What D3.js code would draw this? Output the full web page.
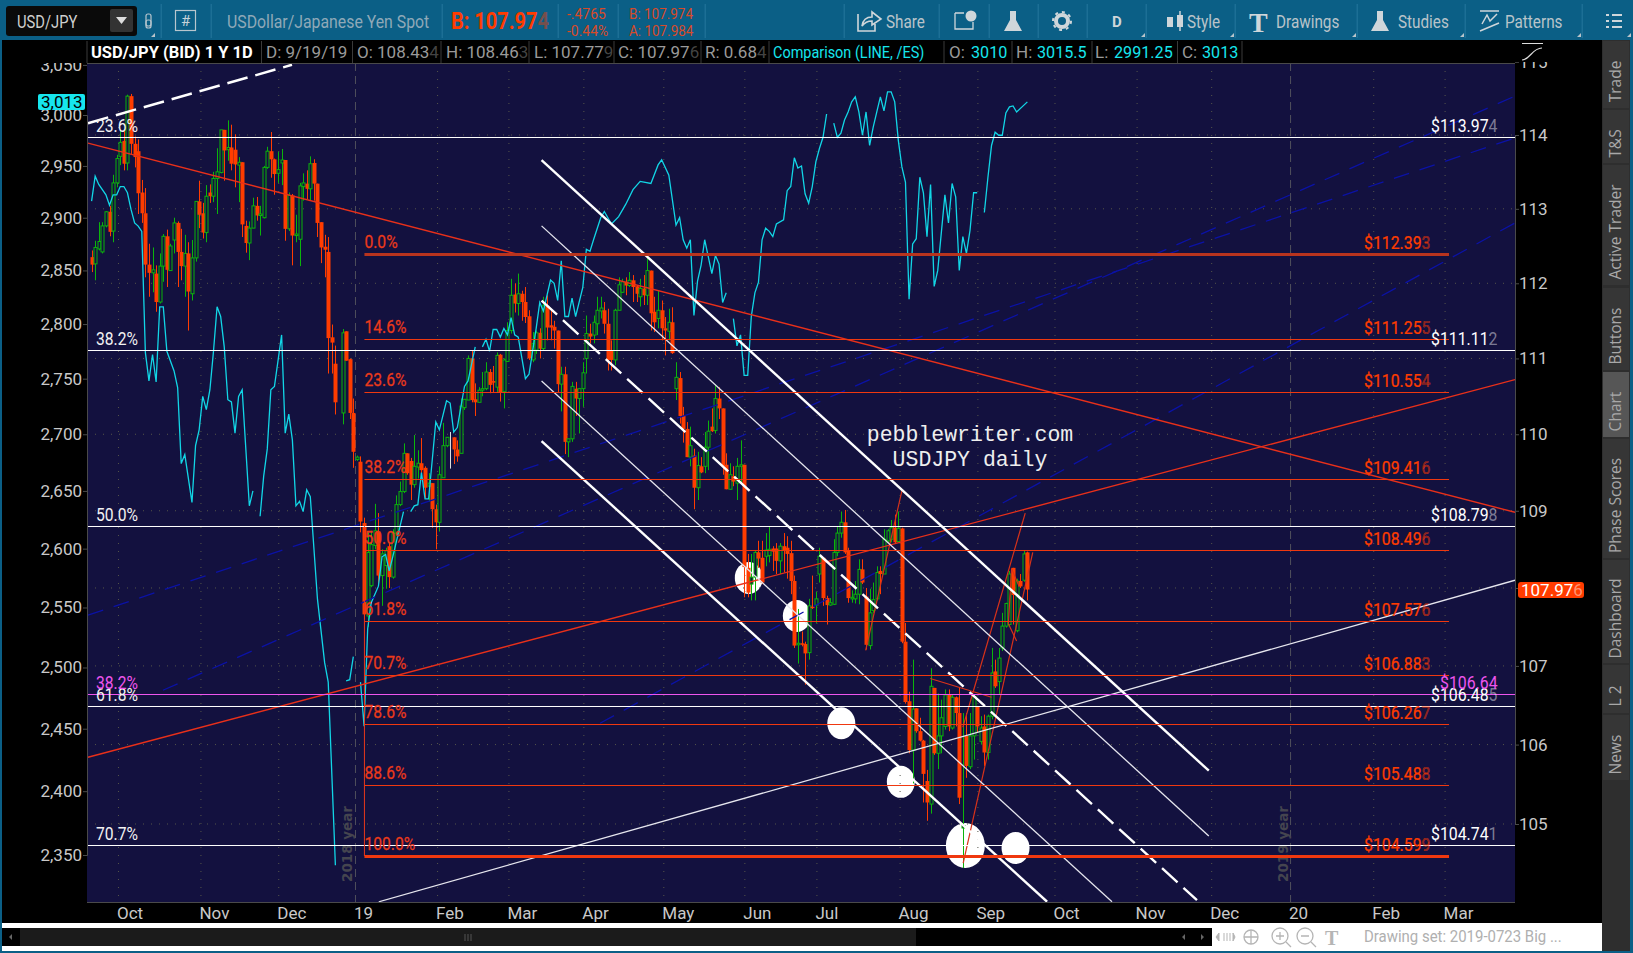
<!DOCTYPE html>
<html>
<head>
<meta charset="utf-8">
<script src="https://cdnjs.cloudflare.com/ajax/libs/d3/7.8.5/d3.min.js"></script>
<style>
  html, body { margin: 0; padding: 0; background: #0b5f86; overflow: hidden; }
  svg { display: block; }
  text { font-family: "Roboto", sans-serif; }
</style>
</head>
<body>
<svg id="chart" width="1633" height="953"></svg>
<script>
// USD/JPY daily candles, one entry per bar (null = no bar)
const opens = [
  112.35,112.26,112.46,112.42,112.77,112.96,112.70,113.35,113.71,113.92,
  113.62,114.53,113.88,113.78,113.22,112.94,112.25,112.14,112.13,111.75,
  112.23,112.63,112.17,112.58,112.81,112.42,112.23,112.40,111.86,112.34,
  113.10,112.94,112.68,113.22,113.17,113.41,113.49,114.07,113.80,113.83,
  113.80,113.59,113.63,112.77,112.54,112.74,113.04,112.91,112.88,113.56,
  113.78,113.67,113.48,113.62,113.66,112.73,113.18,112.64,112.59,113.30,
  113.34,113.27,113.62,113.34,112.82,112.49,112.42,111.28,110.93,null,
  110.28,111.36,110.99,110.28,109.67,109.64,108.84,107.64,108.03,108.55,
  108.73,108.16,108.29,108.54,108.14,108.71,109.08,109.25,109.75,109.65,
  109.34,109.57,109.62,109.56,109.32,109.36,109.02,108.85,109.43,109.85,
  109.96,109.96,109.80,109.75,110.35,110.45,111.00,110.46,110.42,110.58,
  110.60,110.82,110.70,110.62,111.05,110.56,110.96,111.37,111.85,111.73,
  111.86,111.75,111.56,110.98,111.11,111.34,111.13,111.70,111.44,111.42,
  111.37,110.66,110.79,109.90,109.94,110.60,110.47,110.60,111.00,111.33,
  111.31,111.46,111.63,111.64,111.46,111.11,110.98,111.64,111.88,112.02,
  111.97,112.04,111.96,111.82,111.93,111.84,112.17,111.62,111.53,111.64,
  111.40,111.36,111.48,110.60,110.74,110.24,110.07,109.70,109.72,109.30,
  109.58,109.58,109.83,110.10,110.05,110.47,110.34,109.60,109.28,109.45,
  109.36,109.58,109.60,108.26,108.05,108.14,108.46,108.39,108.41,108.42,
  108.51,108.51,108.35,108.54,108.52,108.45,108.09,107.27,107.29,107.28,
  107.17,107.76,107.78,108.18,108.39,107.87,107.78,107.79,108.46,108.71,
  108.85,108.48,107.86,107.86,107.92,108.24,107.89,107.26,107.71,107.86,
  108.22,108.18,108.61,108.63,108.78,108.60,108.77,107.31,106.55,105.93,
  106.46,106.17,106.05,105.54,105.25,106.72,105.89,106.11,106.23,106.63,
  106.21,106.60,106.40,104.95,106.11,105.72,106.11,106.49,106.04,106.23,
  105.90,106.36,106.93,106.80,107.23,107.51,107.53,108.26,107.45,108.09,
  108.10,108.46
];
const highs = [
  112.44,112.57,112.82,112.82,112.97,113.04,113.46,113.73,114.07,114.07,
  114.55,114.56,113.98,113.94,113.39,113.28,112.53,112.48,112.24,112.40,
  112.66,112.72,112.53,112.88,112.83,112.73,112.65,112.55,112.58,113.10,
  113.38,113.08,113.32,113.33,113.50,113.82,114.07,114.07,114.20,114.14,
  114.01,113.70,113.63,112.84,112.83,113.15,113.16,113.04,113.58,113.84,
  114.04,113.68,113.77,113.81,113.66,113.22,113.20,112.92,113.35,113.48,
  113.52,113.71,113.67,113.34,112.82,112.65,112.62,111.45,111.17,null,
  111.39,111.36,111.00,110.47,109.72,109.71,108.91,108.72,108.74,109.09,
  108.97,108.50,108.52,108.59,108.76,109.20,109.38,109.88,109.75,109.69,
  109.99,109.79,109.95,109.58,109.49,109.36,109.08,109.58,110.15,109.96,
  110.03,109.96,109.92,110.47,110.46,111.04,111.10,110.67,110.62,110.82,
  110.95,110.86,110.90,111.08,111.06,111.00,111.48,112.06,112.00,112.13,
  111.90,111.95,111.64,111.35,111.37,111.40,111.82,111.84,111.65,111.50,
  111.37,110.89,110.89,109.94,110.69,110.69,110.61,110.95,111.57,111.46,
  111.57,111.82,111.82,111.75,111.66,111.24,111.66,112.08,112.06,112.08,
  112.15,112.11,111.97,112.06,112.11,112.35,112.17,111.82,111.90,111.77,
  111.55,111.66,111.68,110.95,110.82,110.36,110.16,110.10,109.81,109.77,
  109.70,110.03,110.18,110.34,110.65,110.62,110.34,109.75,109.62,109.58,
  109.69,109.92,109.60,108.44,108.44,108.48,108.61,108.61,108.71,108.80,
  108.54,108.58,108.58,108.71,108.67,108.61,108.16,107.73,107.44,107.31,
  107.86,108.16,107.95,108.52,108.39,107.90,107.87,108.63,108.80,108.99,
  109.01,108.52,107.97,108.09,108.37,108.37,108.00,107.99,108.07,108.28,
  108.28,108.76,108.76,108.88,108.95,108.99,108.78,107.55,106.67,107.08,
  106.46,106.34,106.06,105.68,106.97,106.72,106.65,106.57,106.70,106.70,
  106.63,106.61,106.72,106.40,106.40,106.40,106.63,106.49,106.36,106.38,
  106.38,107.23,107.08,107.23,107.68,107.81,108.22,108.26,108.12,108.18,
  108.48,108.47
];
const lows = [
  112.15,112.04,112.44,112.40,112.75,112.63,112.55,113.29,113.59,113.52,
  113.52,113.73,113.56,112.93,112.81,112.08,111.82,111.88,111.62,111.73,
  112.02,111.95,112.17,112.40,111.95,112.04,111.82,111.37,111.77,112.29,
  112.74,112.60,112.55,113.08,113.09,112.93,113.48,113.38,113.65,113.52,
  113.29,113.09,112.62,112.41,112.31,112.74,112.84,112.64,112.87,113.54,
  113.42,113.19,113.35,113.32,112.57,112.70,112.24,112.55,112.23,113.11,
  113.13,113.11,113.11,112.62,112.27,112.08,110.80,110.80,110.26,null,
  110.13,110.97,110.20,109.56,109.65,108.72,107.60,107.50,108.01,108.50,
  108.03,107.77,107.99,108.00,108.12,108.67,109.06,109.23,109.47,109.14,
  109.30,109.42,109.42,109.16,109.12,108.78,108.50,108.73,109.43,109.83,
  109.55,109.61,109.64,109.75,110.32,110.45,110.42,110.24,110.42,110.50,
  110.58,110.54,110.55,110.55,110.43,110.34,110.96,111.33,111.61,111.57,
  111.50,111.47,110.98,110.95,111.06,111.00,111.11,111.24,111.24,111.13,
  110.55,110.30,109.74,109.70,109.90,110.24,110.01,110.36,110.80,111.20,
  111.20,111.31,111.53,111.33,110.84,110.84,110.91,111.64,111.87,111.84,
  111.95,111.75,111.75,111.69,111.71,111.71,111.37,111.35,111.40,111.24,
  111.04,111.24,111.06,110.45,110.14,109.89,109.70,109.58,109.02,109.14,
  109.49,109.49,109.53,110.03,110.01,110.20,109.47,109.28,109.28,109.32,
  109.14,109.36,107.88,107.88,107.84,107.84,108.26,108.05,108.28,108.33,
  108.22,108.18,108.18,108.20,108.12,107.92,107.23,107.03,107.25,106.76,
  107.08,107.73,107.55,108.07,107.77,107.53,107.77,107.78,108.41,108.65,
  108.44,107.81,107.81,107.80,107.79,108.05,107.21,107.21,107.68,107.84,
  107.92,108.18,108.59,108.59,108.57,108.59,107.29,106.52,105.89,105.51,
  106.15,106.04,105.27,105.04,105.13,105.87,105.69,105.89,106.19,106.17,
  106.19,106.23,105.25,104.45,105.58,105.69,105.81,106.15,106.00,105.73,
  105.81,106.32,106.72,106.63,107.19,107.49,107.51,107.53,107.43,108.00,
  108.08,107.84
];
const closes = [
  112.25,112.48,112.56,112.77,112.96,112.69,113.35,113.68,113.90,113.61,
  114.53,113.88,113.70,113.21,112.94,112.25,112.14,112.18,111.75,112.23,
  112.63,112.18,112.50,112.81,112.42,112.23,112.40,111.89,112.34,113.10,
  112.92,112.68,113.17,113.17,113.41,113.50,114.07,113.79,113.83,113.61,
  113.60,113.63,112.79,112.54,112.74,113.04,112.91,112.93,113.56,113.78,
  113.67,113.47,113.53,113.66,112.73,113.18,112.64,112.66,113.31,113.35,
  113.27,113.61,113.34,112.81,112.48,112.45,111.27,111.21,110.42,null,
  111.34,110.97,110.28,109.77,109.70,108.86,107.66,108.46,108.56,108.74,
  108.16,108.44,108.48,108.14,108.71,109.08,109.25,109.75,109.49,109.34,
  109.58,109.62,109.53,109.30,109.36,109.02,108.85,109.47,109.85,109.96,
  109.96,109.80,109.71,110.37,110.46,111.00,110.45,110.42,110.58,110.60,
  110.82,110.65,110.68,111.04,110.55,110.98,111.37,111.84,111.73,111.86,
  111.75,111.55,111.00,111.20,111.34,111.13,111.70,111.41,111.41,111.37,
  110.66,110.79,109.90,109.94,110.63,110.47,110.60,110.81,111.33,111.29,
  111.48,111.64,111.67,111.46,110.98,110.98,111.64,111.98,112.02,111.97,
  112.04,111.95,111.86,111.93,111.84,112.17,111.60,111.48,111.64,111.40,
  111.37,111.48,111.07,110.75,110.24,110.07,109.70,109.85,109.30,109.59,
  109.50,109.83,110.04,110.04,110.47,110.34,109.58,109.28,109.47,109.38,
  109.58,109.60,108.27,107.94,108.14,108.46,108.38,108.07,108.49,108.50,
  108.47,108.35,108.54,108.48,108.44,108.09,107.26,107.29,107.27,107.16,
  107.77,107.75,107.86,108.41,107.87,107.78,107.81,108.46,108.71,108.85,
  108.46,107.87,107.88,107.92,108.24,108.07,107.27,107.68,107.85,108.20,
  108.18,108.63,108.74,108.78,108.59,108.77,107.31,106.54,105.93,106.45,
  106.17,106.05,105.63,105.27,106.74,105.89,106.11,106.34,106.63,106.23,
  106.60,106.40,105.33,104.98,105.73,106.11,106.61,106.23,106.21,105.90,
  106.36,106.91,106.74,107.10,107.51,107.80,108.18,107.91,108.09,108.02,
  108.44,107.98
];

// /ES comparison line: bar number and value, null value = break in the line
const esBars = [
  0,1,2,4,5,6,7,8,9,10,11,12,13,14,15,16,17,18,19,20,21,23,24,25,26,28,29,30,31,32,33,34,35,36,37,38,39,40,41,42,44,45,46,
  47,48,49,50,51,53,54,55,56,57,58,59,60,61,63,65,66,68,69,71,72,73,74,75,76,77,78,80,81,82,83,84,87,88,
  89,90,91,92,93,94,96,97,99,100,101,102,104,105,107,108,
  109,110,111,112,113,114,115,116,117,118,119,121,122,124,125,126,128,129,130,131,132,133,134,135,137,138,139,140,
  142,143,145,147,149,151,153,156,158,159,161,163,164,165,166,167,168,169,170,171,173,174,175,176,177,178,
  179,180,181,182,183,184,185,186,187,188,189,190,191,193,194,195,196,197,198,199,200,201,202,203,204,205,206,
  207,208,209,210,211,212,213,214,215,216,217,218,219,220,221,222,223,224,225,226,227,228,229,230,231,232,233,234,235,236,
  238,239,240,241,242,243,244,245,246,247,248,249,250,251,252,253,254,255,256,257,258,261
];
const esValues = [
  2916,2940,2932,2922,2912,2922,2922,2930,2930,2924,2908,2895,2892,2887,2774,2748,2772,2747,2816,2816,2775,2757,2742,2674,2682,2640,2690,2704,2734,2722,2740,2775,2816,2807,2779,2731,2729,2701,2734,2740,2637,2650,null,
  2628,2663,2687,2740,2743,2790,2701,2718,2695,2637,2641,2632,2651,2645,2557,2504,2488,2342,null,2489,2490,2509,null,2488,2452,2532,2554,2568,2593,2595,2581,2593,2632,null,
  2632,2637,2638,2666,2643,2643,2711,2704,2730,2728,2702,2706,2743,2748,2779,null,
  2779,2786,2775,2795,2795,2788,2796,2790,2806,2790,2788,2750,2754,2796,2820,2812,2841,2838,2822,2859,2807,2807,2824,2807,2834,2870,2868,2879,
  2900,2906,2894,2901,2913,2927,2935,2933,2951,2956,2941,2893,2900,2879,2871,2879,2808,2840,2855,2879,2847,2864,2856,2820,2829,null,
  2805,2780,2790,2753,2753,2807,2829,2839,2879,2890,2887,2882,2894,2898,2926,2930,2958,2948,2950,2923,2914,2930,2954,2967,2978,3001,null,
  2992,2978,2982,2995,3003,3013,3018,3003,2980,3003,2970,2988,3003,3018,3004,3023,3023,3013,2975,2949,2934,2823,2875,2880,2939,2924,2882,2932,2835,2850,
  2922,2895,2933,2920,2850,2882,2866,2888,2924,2924,null,2905,2939,2970,2983,2980,2980,3002,3008,3009,3003,3013
];

// axes
const esTicks = [2350,2400,2450,2500,2550,2600,2650,2700,2750,2800,2850,2900,2950,3000,3050];
const priceTicks = [105,106,107,108,109,110,111,112,113,114,115];
const priceTickLabels = ['105','106','107','','109','110','111','112','113','114','115'];
const monthBars = [7.5,30.5,52.2,73.6,96.5,116.4,137.3,159.6,182.2,202.3,225.5,247.2,268.7,291.6,312.4,334.4,357.6,377.5];
const monthLabels = ['Oct','Nov','Dec','19','Feb','Mar','Apr','May','Jun','Jul','Aug','Sep','Oct','Nov','Dec','20','Feb','Mar'];
const yearBars = [73.6,334.4];
const yearLabels = ['2018 year','2019 year'];

// fibonacci levels
const fibPrices = [112.393,111.255,110.554,109.416,108.496,107.576,106.883,106.267,105.488,104.599];
const fibPct = ['0.0%','14.6%','23.6%','38.2%','50.0%','61.8%','70.7%','78.6%','88.6%','100.0%'];
const fibTags = ['$112.393','$111.255','$110.554','$109.416','$108.496','$107.576','$106.883','$106.267','$105.488','$104.599'];
const fibStartBar = 76.1;
const fibEndBar = 378.6;
const fibTopPrice = 108.8;
const whitePrices = [113.974,111.112,108.798,106.485,104.741];
const whitePct = ['23.6%','38.2%','50.0%','61.8%','70.7%'];
const whiteTags = ['$113.974','$111.112','$108.798','$106.485','$104.741'];
const pinkPrice = 106.64;

// drawn lines: [bar, price, bar, price]
const channelThick = [[125.5,113.66,311.6,105.67],[125.5,109.91,266.5,104.03]];
const channelThin = [[125.5,112.77,311.6,104.85],[125.5,110.70,284.6,104.03],[80.1,104.03,397,108.10]];
const channelDashed = [[125.5,111.77,308.3,104.05],[-1,114.16,55.9,114.96]];
const redTrends = [[-1,113.89,397,108.98],[-1,105.84,397,110.72]];
const redSmall = [[215.9,107.2,226,109.26],[243,106.22,260.4,108.97],[243.1,104.51,262.5,108.46],[233.9,106.84,251,106.6],[258.7,108.02,256.6,108.25],[256.6,108.25,255.7,107.54],[255.7,107.54,258,107.32]];
const blueDashed = [[-1,107.65,397,113.96],[19.9,106.69,397,114.53],[141.8,106.27,397,112.81]];

// white circled points
const spotBars = [183.3,196.7,209.1,225.7,243.7,257.7];
const spotPrices = [108.13,107.64,106.27,105.53,104.73,104.70];
const spotBig = [false,false,false,false,true,false];

const width = 1633, height = 953;
const plot = { left: 87, right: 1515, top: 63, bottom: 902 };

const x = d3.scaleLinear().domain([-1, 397]).range([88, 1515]);
const yPrice = d3.scaleLog().domain([105, 114]).range([824, 135]);
const yEs = d3.scaleLog().domain([2350, 3000]).range([855, 115]);

const RED = '#ff3c00', GREEN = '#0bb40b', WHITE = '#ffffff', CYAN = '#12d6e6', PINK = '#ee55ee', NAVY = '#0b12a6';

const svg = d3.select('#chart');

function rect(p, x0, y0, w, h, fill, rx) {
  return p.append('rect').attr('x', x0).attr('y', y0).attr('width', w).attr('height', h).attr('fill', fill).attr('rx', rx || 0);
}
// the platform font is condensed, sx squeezes Roboto to the same width
function label(p, x0, y0, s, size, fill, weight, sx) {
  return p.append('text').attr('transform', `translate(${x0},${y0}) scale(${sx || 1},1)`)
    .attr('font-size', size).attr('fill', fill)
    .attr('font-weight', weight || 'normal').text(s);
}
// price text, last digit fainter like the platform draws it
function tag(p, x0, y0, s, size, fill, weight, sx) {
  const t = label(p, x0, y0, s.slice(0, -1), size, fill, weight, sx);
  t.append('tspan').attr('fill-opacity', 0.45).text(s.slice(-1));
  return t;
}

// page blocks
rect(svg, 0, 0, width, height, '#0b5f86');
rect(svg, 2, 40, 1600, 883, '#000000');
rect(svg, plot.left, plot.top, plot.right - plot.left, plot.bottom - plot.top, '#13113f');

const defs = svg.append('defs');
defs.append('clipPath').attr('id', 'plotClip').append('rect')
  .attr('x', plot.left).attr('y', plot.top).attr('width', plot.right - plot.left).attr('height', plot.bottom - plot.top);

const g = svg.append('g').attr('clip-path', 'url(#plotClip)');

// white spots sit under everything else
g.selectAll('ellipse').data(spotBars).enter().append('ellipse')
  .attr('cx', d => x(d))
  .attr('cy', (d, i) => yPrice(spotPrices[i]))
  .attr('rx', (d, i) => spotBig[i] ? 19.5 : 14)
  .attr('ry', (d, i) => spotBig[i] ? 22.5 : 16)
  .attr('fill', WHITE);

// grid
g.selectAll('line.gv').data(monthBars.filter(d => !yearBars.includes(d))).enter().append('line')
  .attr('class', 'gv').attr('x1', d => x(d)).attr('x2', d => x(d)).attr('y1', plot.top).attr('y2', plot.bottom)
  .attr('stroke', '#55554a').attr('stroke-width', 1).attr('stroke-dasharray', '1 7');
g.selectAll('line.gh').data(priceTicks.slice(0, -1)).enter().append('line')
  .attr('class', 'gh').attr('x1', plot.left).attr('x2', plot.right).attr('y1', d => yPrice(d)).attr('y2', d => yPrice(d))
  .attr('stroke', '#55554a').attr('stroke-width', 1).attr('stroke-dasharray', '1 7');
g.selectAll('line.gy').data(yearBars).enter().append('line')
  .attr('class', 'gy').attr('x1', d => x(d)).attr('x2', d => x(d)).attr('y1', plot.top).attr('y2', plot.bottom)
  .attr('stroke', '#50505c').attr('stroke-width', 1).attr('stroke-dasharray', '8 5');
yearBars.forEach((b, i) => {
  g.append('text').attr('transform', `translate(${x(b) - 3},882) rotate(-90)`)
    .attr('font-size', 13.5).attr('font-weight', 'bold').attr('fill', '#45454f')
    .style('font-family', '"DejaVu Sans"').text(yearLabels[i]);
});

// candles
const barIdx = d3.range(opens.length).filter(i => opens[i] !== null);
const barColor = i => closes[i] > opens[i] ? GREEN : (closes[i] < opens[i] ? RED : '#dddddd');

g.selectAll('line.wick').data(barIdx).enter().append('line')
  .attr('class', 'wick')
  .attr('x1', i => Math.round(x(i)) + 0.5).attr('x2', i => Math.round(x(i)) + 0.5)
  .attr('y1', i => yPrice(highs[i])).attr('y2', i => yPrice(lows[i]))
  .attr('stroke', barColor).attr('stroke-width', 1);

g.selectAll('rect.body').data(barIdx.filter(i => closes[i] !== opens[i])).enter().append('rect')
  .attr('class', 'body')
  .attr('x', i => Math.round(x(i)) - 1 + (closes[i] > opens[i] ? 0 : -0.5))
  .attr('y', i => yPrice(Math.max(opens[i], closes[i])))
  .attr('width', i => closes[i] > opens[i] ? 3 : 4)
  .attr('height', i => Math.max(1.5, Math.abs(yPrice(opens[i]) - yPrice(closes[i]))))
  .attr('fill', i => closes[i] > opens[i] ? '#13113f' : RED)
  .attr('stroke', i => closes[i] > opens[i] ? GREEN : 'none')
  .attr('stroke-width', 1);

// comparison line
const esLine = d3.line()
  .defined((d, i) => esValues[i] !== null)
  .x(d => x(d))
  .y((d, i) => yEs(esValues[i]));
g.append('path').datum(esBars).attr('d', esLine).attr('fill', 'none').attr('stroke', CYAN).attr('stroke-width', 1.3);

// sloped drawings
function trend(list, color, w, dash) {
  g.append('g').selectAll('line').data(list).enter().append('line')
    .attr('x1', d => x(d[0])).attr('y1', d => yPrice(d[1]))
    .attr('x2', d => x(d[2])).attr('y2', d => yPrice(d[3]))
    .attr('stroke', color).attr('stroke-width', w)
    .attr('stroke-dasharray', dash || null);
}
trend(blueDashed, NAVY, 1.3, '16 11');
trend(redTrends, '#e8301a', 1.4);
trend(redSmall, '#d8321a', 1.2);
trend(channelThin, '#e6e6ee', 1.3);
trend(channelThick, WHITE, 2.4);
trend(channelDashed, WHITE, 2.4, '21 8');

// level lines
g.selectAll('line.white').data(whitePrices).enter().append('line')
  .attr('class', 'white').attr('x1', plot.left).attr('x2', plot.right)
  .attr('y1', d => Math.round(yPrice(d)) + 0.5).attr('y2', d => Math.round(yPrice(d)) + 0.5)
  .attr('stroke', WHITE).attr('stroke-width', 1.2);
g.append('line').attr('x1', plot.left).attr('x2', plot.right)
  .attr('y1', Math.round(yPrice(pinkPrice)) + 0.5).attr('y2', Math.round(yPrice(pinkPrice)) + 0.5)
  .attr('stroke', PINK).attr('stroke-width', 1.2);

g.append('line').attr('x1', x(fibStartBar)).attr('x2', x(fibStartBar))
  .attr('y1', yPrice(fibTopPrice)).attr('y2', yPrice(fibPrices[9]))
  .attr('stroke', '#e8391c').attr('stroke-width', 1);
g.selectAll('line.fib').data(fibPrices).enter().append('line')
  .attr('class', 'fib').attr('x1', x(fibStartBar)).attr('x2', x(fibEndBar))
  .attr('y1', d => Math.round(yPrice(d)) + 0.5).attr('y2', d => Math.round(yPrice(d)) + 0.5)
  .attr('stroke', (d, i) => i === 0 ? '#b8341e' : '#f0380f')
  .attr('stroke-width', (d, i) => (i === 0 || i === 9) ? 3 : 1.2);

// level labels
fibPrices.forEach((p, i) => {
  const yy = Math.round(yPrice(p));
  label(g, x(fibStartBar), yy - 6, fibPct[i], 18, '#ec3a1a', 'normal', 0.87).attr('stroke', '#ec3a1a').attr('stroke-width', 0.25);
  tag(g, 1364, yy - 5, fibTags[i], 18, RED, 'normal', 0.88).attr('stroke', RED).attr('stroke-width', 0.25);
});
whitePrices.forEach((p, i) => {
  const yy = Math.round(yPrice(p));
  label(g, 96, yy - 5, whitePct[i], 18, '#f2f2f2', 'normal', 0.87);
  tag(g, 1431, yy - 5, whiteTags[i], 18, '#ffffff', 'normal', 0.88);
});
const pinkY = Math.round(yPrice(pinkPrice));
label(g, 96, pinkY - 5, '38.2%', 18, PINK, 'normal', 0.87);
label(g, 1440, pinkY - 5, '$106.64', 18, PINK, 'normal', 0.88);

// watermark text
const note = g.append('g').attr('fill', '#eeeeee').attr('font-size', 21.5).attr('text-anchor', 'middle');
note.append('text').attr('x', 970).attr('y', 441).style('font-family', '"Liberation Mono", monospace').text('pebblewriter.com');
note.append('text').attr('x', 970).attr('y', 466).style('font-family', '"Liberation Mono", monospace').text('USDJPY daily');

// axes
function styleAxis(a) {
  a.select('.domain').attr('stroke', '#4a4a4a');
  a.selectAll('.tick line').attr('stroke', '#4a4a4a');
  a.selectAll('.tick text').attr('fill', '#c9c9c9').attr('font-size', 17)
    .style('font-family', '"Roboto", sans-serif');
}
const leftAxis = svg.append('g').attr('transform', `translate(${plot.left},0)`)
  .call(d3.axisLeft(yEs).tickValues(esTicks).tickFormat(d3.format(',')).tickSize(4).tickPadding(1));
styleAxis(leftAxis);
const rightAxis = svg.append('g').attr('transform', `translate(${plot.right},0)`)
  .call(d3.axisRight(yPrice).tickValues(priceTicks).tickFormat((d, i) => priceTickLabels[i]).tickSize(4).tickPadding(0));
styleAxis(rightAxis);
rightAxis.selectAll('.tick text').attr('x', 4);
const bottomAxis = svg.append('g').attr('transform', `translate(-2,${plot.bottom})`)
  .call(d3.axisBottom(x).tickValues(monthBars).tickFormat((d, i) => monthLabels[i]).tickSize(0).tickPadding(5));
styleAxis(bottomAxis);
bottomAxis.selectAll('.tick text').attr('text-anchor', 'start');
bottomAxis.select('.domain').remove();
svg.append('line').attr('x1', plot.left).attr('x2', plot.right).attr('y1', plot.bottom + 0.5).attr('y2', plot.bottom + 0.5).attr('stroke', '#4a4a4a');

// last price boxes
rect(svg, 1518, Math.round(yPrice(closes[261])) - 8, 66, 16, RED, 3);
tag(svg, 1521, Math.round(yPrice(closes[261])) + 6, '107.976', 17, '#ffffff');
rect(svg, 38, 94, 47, 16, '#16e6ee', 2);
label(svg, 41, 108, '3,013', 17, '#000000');

// legend bar
rect(svg, 2, 40, 1513, 23, '#000000');
rect(svg, 1515, 40, 87, 22, '#000000');
svg.append('line').attr('x1', 87).attr('x2', 1515).attr('y1', 63.5).attr('y2', 63.5).attr('stroke', '#4a4a4a');
[87, 261.5, 352.5, 441, 529, 614, 701, 769, 944, 1012, 1092, 1177.5, 1242].forEach(sx => {
  svg.append('line').attr('x1', sx).attr('x2', sx).attr('y1', 41).attr('y2', 63).attr('stroke', '#3a3a3a');
});
label(svg, 91, 58, 'USD/JPY (BID) 1 Y 1D', 17, '#ffffff', 'bold', 0.97);
label(svg, 266, 58, 'D: 9/19/19', 17, '#9a9a9a');
const ohlc = [[357, 'O: 108.434'], [446, 'H: 108.463'], [534, 'L: 107.779'], [618, 'C: 107.976'], [705, 'R: 0.684']];
ohlc.forEach(d => tag(svg, d[0], 58, d[1], 17, '#9a9a9a'));
label(svg, 773, 58, 'Comparison (LINE, /ES)', 17, '#16e6ee', 'normal', 0.85);
const esHead = [[949, 'O:', 971, '3010'], [1016, 'H:', 1037, '3015.5'], [1095, 'L:', 1114, '2991.25'], [1182, 'C:', 1202, '3013']];
esHead.forEach(d => {
  label(svg, d[0], 58, d[1], 17, '#9a9a9a');
  label(svg, d[2], 58, d[3], 17, '#16e6ee', 'normal', 0.95);
});
// small study icon above the price scale
svg.append('path').attr('d', 'M1522 43.5H1543M1522 60C1530 60 1532 48 1542 48').attr('fill', 'none').attr('stroke', '#dddddd').attr('stroke-width', 1.2);

// toolbar
const TB = '#8fa9b8';
[161, 211, 442, 558, 618, 705, 844, 939, 989, 1038, 1087, 1146, 1235, 1357, 1465, 1582].forEach(sx => {
  rect(svg, sx - 0.5, 4, 1.5, 34, '#1c6f95');
});
rect(svg, 6, 6, 131, 30, '#0a0a0a', 3);
label(svg, 17, 28, 'USD/JPY', 18, '#cfcfcf', 'normal', 0.82);
rect(svg, 110, 9, 23, 23, '#333333', 2);
svg.append('path').attr('d', 'M116 17H127L121.5 24Z').attr('fill', '#dddddd');
svg.append('rect').attr('x', 146).attr('y', 14).attr('width', 5).attr('height', 12).attr('rx', 2).attr('fill', 'none').attr('stroke', '#b8c6ce').attr('stroke-width', 1.2);
svg.append('rect').attr('x', 146).attr('y', 20).attr('width', 5).attr('height', 8).attr('rx', 2).attr('fill', 'none').attr('stroke', '#b8c6ce').attr('stroke-width', 1.2);
svg.append('rect').attr('x', 175.5).attr('y', 10.5).attr('width', 20).attr('height', 20).attr('fill', 'none').attr('stroke', '#b8c6ce').attr('stroke-width', 1.2);
label(svg, 181, 26, '#', 15, '#c6d2d8');
label(svg, 227, 28, 'USDollar/Japanese Yen Spot', 18, TB, 'normal', 0.88);
tag(svg, 451, 29, 'B: 107.974', 23, RED, 'bold', 0.87);
label(svg, 567, 19, '-.4765', 15.5, '#d84a28', 'normal', 0.9);
label(svg, 567, 36, '-0.44%', 15.5, '#d84a28', 'normal', 0.9);
label(svg, 629, 19, 'B: 107.974', 15.5, '#d84a28', 'normal', 0.87);
label(svg, 629, 36, 'A: 107.984', 15.5, '#d84a28', 'normal', 0.87);

const TI = '#cfd6da';
const tools = [[886, 'Share'], [1187, 'Style'], [1276, 'Drawings'], [1398, 'Studies'], [1505, 'Patterns']];
tools.forEach(d => label(svg, d[0], 28, d[1], 18, '#b9c4ca', 'normal', 0.85));
label(svg, 1112, 27, 'D', 15, TI, 'bold');
label(svg, 1249, 32, 'T', 28, TI, 'bold').style('font-family', '"Liberation Serif", serif');
// share arrow
svg.append('path').attr('d', 'M858 14V31H875V24M862 26C863 19 868 17 872 17V12L881 19L872 25V21C868 21 865 22 862 26Z').attr('fill', 'none').attr('stroke', TI).attr('stroke-width', 1.6);
// info box
svg.append('path').attr('d', 'M955 13H964M955 13V29H973V22').attr('fill', 'none').attr('stroke', TI).attr('stroke-width', 1.3);
svg.append('circle').attr('cx', 971).attr('cy', 16).attr('r', 5.5).attr('fill', TI);
// flasks
[1013, 1380].forEach(fx => {
  svg.append('path').attr('d', `M${fx - 3} 11H${fx + 3}V20L${fx + 9} 31H${fx - 9}L${fx - 3} 20Z`).attr('fill', TI);
});
// gear
svg.append('circle').attr('cx', 1062).attr('cy', 21).attr('r', 6).attr('fill', 'none').attr('stroke', TI).attr('stroke-width', 4);
svg.append('circle').attr('cx', 1062).attr('cy', 21).attr('r', 9).attr('fill', 'none').attr('stroke', TI).attr('stroke-width', 2).attr('stroke-dasharray', '3 4');
// candle style
svg.append('path').attr('d', 'M1170 17V27M1180 11V31').attr('stroke', TI).attr('stroke-width', 1.5);
rect(svg, 1167, 17, 6, 10, TI);
rect(svg, 1177, 15, 6, 12, TI);
// patterns
svg.append('path').attr('d', 'M1480 11H1499M1480 31L1499 23M1482 24L1487 15L1490 21L1497 14').attr('fill', 'none').attr('stroke', TI).attr('stroke-width', 1.5);
// menu
svg.append('path').attr('d', 'M1606 15H1609M1606 21H1609M1606 27H1609M1612 15H1622M1612 21H1622M1612 27H1622').attr('stroke', TI).attr('stroke-width', 2);
// corner markers
[[156, 37], [1146, 37], [1235, 37], [1357, 37], [1465, 37], [1582, 37], [1632, 37]].forEach(c => {
  svg.append('path').attr('d', `M${c[0] - 5} ${c[1]}H${c[0] - 1}V${c[1] - 4}Z`).attr('fill', '#b9c4ca');
});

// side tabs
rect(svg, 1602, 40, 28, 911, '#2e2e2e');
const tabStarts = [41, 110, 165, 288, 372, 439, 560, 665, 715];
const tabEnds = [108, 163, 285, 370, 437, 558, 663, 713, 780];
const tabNames = ['Trade', 'T&S', 'Active Trader', 'Buttons', 'Chart', 'Phase Scores', 'Dashboard', 'L 2', 'News'];
tabNames.forEach((n, i) => {
  rect(svg, 1603, tabStarts[i], 26, tabEnds[i] - tabStarts[i], n === 'Chart' ? '#565656' : '#363636');
  svg.append('text').attr('transform', `translate(1621,${(tabStarts[i] + tabEnds[i]) / 2 + 7}) rotate(-90)`)
    .attr('text-anchor', 'middle').attr('font-size', 15.5).attr('fill', '#a8a8a8')
    .style('font-family', '"Open Sans", sans-serif').text(n);
});

// scroll strip
rect(svg, 2, 923, 1600, 28, '#ffffff');
rect(svg, 2, 928, 1210, 18, '#000000');
rect(svg, 20, 928, 896, 18, '#1b1b1b');
svg.append('path').attr('d', 'M12 934L9 937L12 940Z').attr('fill', '#666666');
svg.append('path').attr('d', 'M1185 934L1182 937L1185 940ZM1201 934L1204 937L1201 940Z').attr('fill', '#666666');
svg.append('path').attr('d', 'M465 934V941M468 934V941M471 934V941').attr('stroke', '#555555');
svg.append('path').attr('d', 'M1216 937L1219 933V941ZM1227 933V941M1224 933V941M1230 933V941M1235 937L1233 933V941Z').attr('fill', '#b5b5b5').attr('stroke', '#b5b5b5');
[[1251, 937, 7], [1280, 936, 8], [1305, 936, 8]].forEach(c => {
  svg.append('circle').attr('cx', c[0]).attr('cy', c[1]).attr('r', c[2]).attr('fill', 'none').attr('stroke', '#b5b5b5').attr('stroke-width', 1.3);
});
svg.append('path').attr('d', 'M1244 937H1258M1251 930V944M1276 936H1284M1280 932V940M1286 942L1291 947M1301 936H1309M1311 942L1316 947')
  .attr('fill', 'none').attr('stroke', '#b5b5b5').attr('stroke-width', 1.3);
label(svg, 1325, 945, 'T', 20, '#b5b5b5', 'bold').style('font-family', '"Liberation Serif", serif');
label(svg, 1364, 942, 'Drawing set: 2019-0723 Big ...', 17, '#b0b0b0', 'normal', 0.88);
</script>
</body>
</html>
